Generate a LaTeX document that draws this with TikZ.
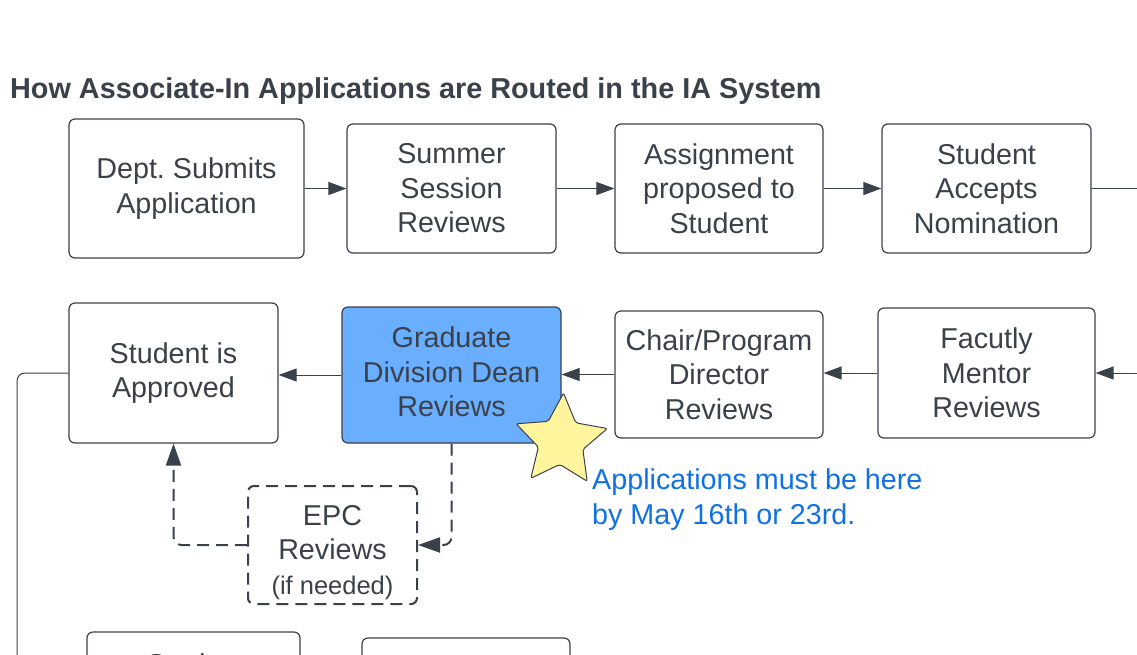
\documentclass[tikz,border=0pt]{standalone}
\usepackage{fontspec}
\setmainfont{Liberation Sans}
\usetikzlibrary{arrows.meta,shapes.geometric}
\definecolor{ink}{HTML}{3A414A}
\definecolor{bluefill}{HTML}{6AAEFF}
\definecolor{starfill}{HTML}{FFF59C}
\definecolor{bluetext}{HTML}{1071E5}
\newcommand{\bodyfont}{\fontsize{28.7}{34.5}\selectfont}
\frenchspacing
\begin{document}
\begin{tikzpicture}[x=1pt,y=-1pt,
  box/.style={draw=ink, line width=1.2pt, rounded corners=6pt, align=center, text=ink, font=\bodyfont, inner sep=0pt},
  conn/.style={draw=ink, line width=1pt, -{Triangle[length=18pt,width=13pt]}},
  plain/.style={draw=ink, line width=1pt},
  dconn/.style={draw=ink, line width=2pt, dash pattern=on 12pt off 7pt, rounded corners=8pt},
]
\useasboundingbox (0,0) rectangle (1137,654);
\clip (0,0) rectangle (1137,654);

\node[anchor=base west, inner sep=0pt, text=ink, font=\fontsize{28.8}{34.5}\selectfont\bfseries] (title) at (10,98) {How Associate-In Applications are Routed in the IA System};

% top row
\node[box, minimum width=235pt, minimum height=139pt] (dept) at (186.5,188.5) {Dept. Submits\\Application};
\node[box, minimum width=209pt, minimum height=129pt] (summer) at (451.5,188.5) {Summer\\Session\\Reviews};
\node[box, minimum width=208pt, minimum height=129pt] (assign) at (719,188.5) {Assignment\\proposed to\\Student};
\node[box, minimum width=209pt, minimum height=129pt] (accept) at (986.5,188.5) {Student\\Accepts\\Nomination};

% second row
\node[box, minimum width=217pt, minimum height=130pt] (mentor) at (986.5,373) {Facutly\\Mentor\\Reviews};
\node[box, minimum width=208pt, minimum height=127pt] (chair) at (719,374.5) {Chair/Program\\Director\\Reviews};
\node[box, fill=bluefill, minimum width=219pt, minimum height=136pt] (dean) at (451.5,375) {Graduate\\Division Dean\\Reviews\rule[-6pt]{0pt}{6pt}};
\node[box, minimum width=209pt, minimum height=140pt] (approved) at (173.5,373) {Student is\\Approved};

% EPC
\node[box, line width=2pt, dash pattern=on 12pt off 7pt, minimum width=169pt, minimum height=118pt] (epc) at (332.5,545) {\rule{0pt}{35pt}EPC\\Reviews\\{\fontsize{25.5}{33}\selectfont (if needed)}};

% bottom partial boxes
\node[box, minimum width=213pt, minimum height=130pt] (nextA) at (193.5,697) {};
\node[anchor=base, text=ink, font=\bodyfont] (nextAtxt) at (196,674) {Student};
\node[box, minimum width=208pt, minimum height=130pt] (nextB) at (466,703) {};

% connectors
\draw[conn] (dept.east) -- (summer.west);
\draw[conn] (summer.east) -- (assign.west);
\draw[conn] (assign.east) -- (accept.west);
\coordinate (rtop) at (1150,188.5);
\draw[plain] (accept.east) -- (rtop);
\coordinate (rmid) at (1150,373);
\draw[conn] (rmid) -- (mentor.east);
\draw[conn] (mentor.west) -- (mentor.west -| chair.east);
\draw[conn] (chair.west) -- (chair.west -| dean.east);
\draw[conn] (dean.west) -- (dean.west -| approved.east);
\coordinate (lbot) at (17,700);
\draw[plain, rounded corners=8pt] (approved.west) -| (lbot);
\draw[dconn, -{Triangle[length=22pt,width=15pt]}] (dean.south) |- (epc.east);
\draw[dconn, -{Triangle[length=22pt,width=15pt]}] (epc.west) -| (approved.south);

% star and note
\node[star, star points=5, star point ratio=2.05, minimum size=96pt, inner sep=0pt, draw=ink, line width=1pt, fill=starfill, rotate=-3, rounded corners=2pt] (star) at (561,441) {};
\node[anchor=base west, align=left, text=bluetext, font=\bodyfont, inner sep=0pt] (note) at (592,524) {Applications must be here\\by May 16th or 23rd.};
\end{tikzpicture}
\end{document}
